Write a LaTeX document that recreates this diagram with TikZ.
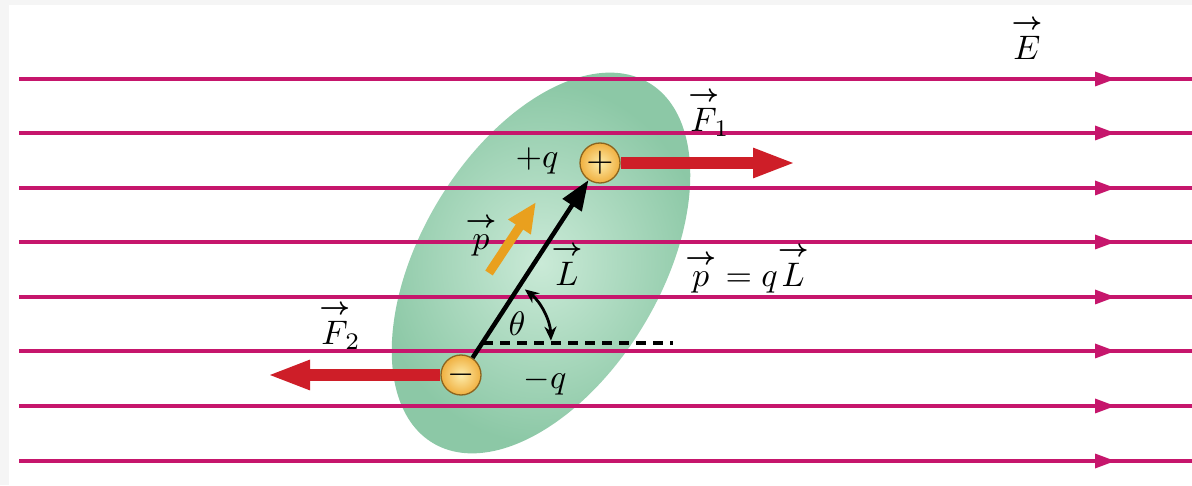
\documentclass[tikz,border=0pt]{standalone}
\usepackage{amsmath}
\usetikzlibrary{arrows.meta}
\newcommand{\vecarr}[1]{\overset{\boldsymbol{\rightarrow}}{#1}}
\definecolor{fieldc}{RGB}{198,22,108}
\definecolor{forcec}{RGB}{206,30,40}
\definecolor{orangec}{RGB}{233,160,30}
\definecolor{greenin}{RGB}{202,234,215}
\definecolor{greenout}{RGB}{140,200,166}
\definecolor{chin}{RGB}{253,236,170}
\definecolor{chout}{RGB}{240,176,64}
\definecolor{chedge}{RGB}{140,100,30}
\begin{document}
\begin{tikzpicture}[x=1pt,y=1pt,
  lbl/.style={inner sep=0pt, scale=3.4},
  field/.style={draw=fieldc, line width=4pt},
  charge/.style={circle, minimum size=40pt, inner sep=0pt, draw=chedge, line width=1.3pt,
     inner color=chin, outer color=chout},
  sign/.style={inner sep=0pt, scale=3.5},
  force/.style={draw=forcec, line width=12pt, -{Triangle[length=43pt,width=27pt]}},
  Larrow/.style={draw=black, line width=4.5pt, -{Triangle[length=30pt,width=22pt]}},
  parrow/.style={draw=orangec, line width=9pt, -{Triangle[length=30pt,width=25pt]}},
  dashln/.style={draw=black, line width=3.8pt, dash pattern=on 10pt off 7pt},
  thetaarc/.style={draw=black, line width=2.8pt, {Stealth[length=14pt,width=12pt]}-{Stealth[length=14pt,width=12pt]}}
]
\useasboundingbox (0,0) rectangle (1192,485);
\fill[black!4] (0,0) rectangle (1192,485);
\fill[white] (9,0) rectangle (1192,480);

% dielectric body
\shade[inner color=greenin, outer color=greenout, shift={(541,222)}, rotate=59]
  (0,0) ellipse [x radius=210, y radius=120];

% field lines
\foreach \yy in {406,352,297,243,188,134,79,24}{
  \draw[field] (19,\yy) -- (1192,\yy);
  \fill[fieldc] (1095,\yy+7.5) -- (1115,\yy) -- (1095,\yy-7.5) -- cycle;
}

% charges
\node[charge] (plus) at (600,322) {};
\node[charge] (minus) at (461,110) {};
\node[sign] (plussign) at (plus.center) {$+$};
\node[sign] (minussign) at (minus.center) {$-$};

% force arrows
\coordinate (f1tip) at (796,322);
\coordinate (f2tip) at (267,110);
\draw[force] (plus.east) -- (f1tip);
\draw[force] (minus.west) -- (f2tip);

% dipole vector L
\draw[Larrow] (minus.56) -- (plus.236);

% angle
\coordinate (vtx) at (483,142);
\coordinate (dashend) at (673,142);
\draw[dashln] (vtx) -- (dashend);
\draw[thetaarc] ([shift={(52:68)}]vtx) arc[start angle=52, end angle=2, radius=68];

% dipole moment p
\coordinate (pstart) at (489,212);
\coordinate (ptip) at (536,283);
\draw[parrow] (pstart) -- (ptip);

% labels
\node[lbl] (E) at (1027,447) {$\vecarr{E}$};
\node[lbl] (F1) at (709,373) {$\vecarr{F}_{\!1}$};
\node[lbl] (F2) at (340,160) {$\vecarr{F}_{\!2}$};
\node[lbl] (pq) at (537,324) {$+q$};
\node[lbl] (mq) at (545,103) {$-q$};
\node[lbl] (plbl) at (481,250) {$\vecarr{p}$};
\node[lbl] (Llbl) at (567,221) {$\vecarr{L}$};
\node[lbl] (eq) at (747,217) {$\vecarr{p}={q}\vecarr{L}$};
\node[lbl] (th) at (517,161) {$\theta$};
\end{tikzpicture}
\end{document}
